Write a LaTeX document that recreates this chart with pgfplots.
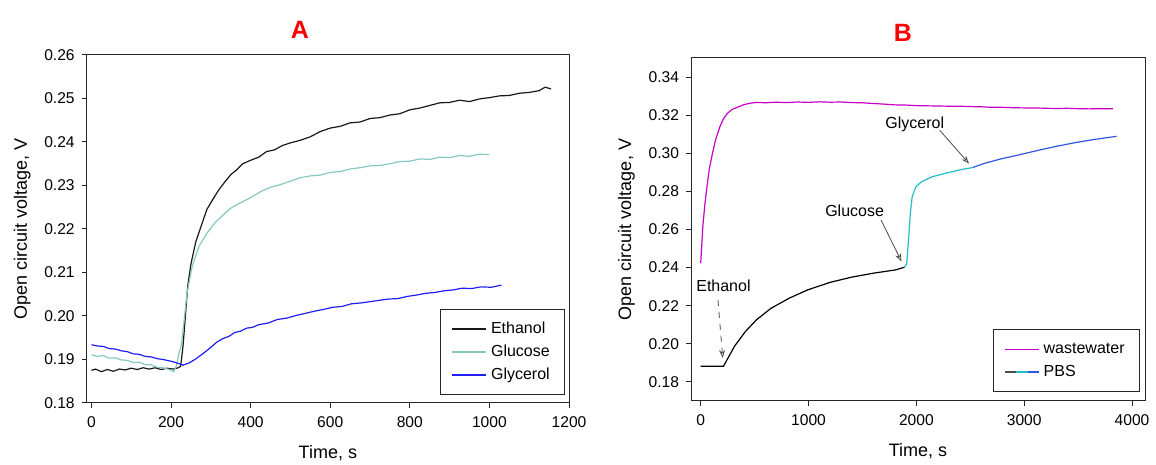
\documentclass[border=0pt]{standalone}
\usepackage{pgfplots}
\pgfplotsset{compat=1.18}
\usepackage{fontspec}
\setmainfont{Liberation Sans}
\usetikzlibrary{arrows.meta}
\definecolor{glucA}{RGB}{135,200,192}
\definecolor{glyblue}{RGB}{30,30,245}
\definecolor{ww}{RGB}{200,0,200}
\definecolor{pbsteal}{RGB}{32,190,200}
\definecolor{pbsblue}{RGB}{50,85,225}
\newcommand{\ls}{\rule[-2pt]{0pt}{8pt}}
\pgfplotsset{myax/.style={
  scale only axis, anchor=south west,
  tick align=outside, tick pos=left, major tick length=2.5pt,
  axis line style={black!85, line width=0.5pt},
  tick style={black!85, line width=0.5pt},
  ticklabel style={font=\fontsize{7.8}{9}\selectfont},
  x tick label style={yshift=-1pt},
  label style={font=\fontsize{9}{11}\selectfont},
  xlabel style={yshift=-2pt},
  /pgf/number format/assume math mode=true,
  y tick label style={/pgf/number format/.cd, fixed, fixed zerofill, precision=2},
  x tick label style={/pgf/number format/.cd, fixed, 1000 sep={}},
  legend cell align=left,
  legend style={font=\fontsize{8}{10}\selectfont, draw=black!85, inner xsep=5.5pt, inner ysep=4pt},
  every axis plot/.append style={line width=0.6pt},
}}
\begin{document}
\begin{tikzpicture}
\useasboundingbox (0,0) rectangle (578pt,232.5pt);
\node[font=\bfseries\fontsize{12.5}{14}\selectfont, text=red] at (150pt,217.5pt) {A};
\node[font=\bfseries\fontsize{12.5}{14}\selectfont, text=red] at (451.5pt,216pt) {B};
\begin{axis}[myax, at={(43.35pt,31pt)}, width=241.15pt, height=174pt,
  xmin=-12, xmax=1200, ymin=0.18, ymax=0.26,
  xtick={0,200,...,1200}, ytick={0.18,0.19,...,0.2601},
  xlabel={Time, s}, ylabel={Open circuit voltage, V},
  legend style={at={(axis description cs:0.992,0.023)}, anchor=south east}]
\addplot[black!90] coordinates {
(0,.1875)(10,.1878)(25,.1872)(40,.1877)(55,.1873)(70,.1878)(85,.1876)(100,.1880)(115,.1877)(130,.1881)(145,.1878)(160,.1881)(175,.1877)
(190,.1880)(205,.1878)(218,.1881)(224,.1884)(230,.1930)(236,.2000)(242,.2070)(250,.2120)(262,.2170)(275,.2205)(290,.2245)(305,.2268)
(320,.2290)(335,.2308)(350,.2325)(365,.2336)(380,.2350)(400,.2358)(420,.2365)(440,.2378)(460,.2382)(480,.2392)(500,.2398)(525,.2404)
(550,.2412)(575,.2424)(600,.2432)(625,.2436)(650,.2444)(675,.2446)(700,.2454)(725,.2456)(750,.2462)(775,.2465)(800,.2474)(825,.2478)
(850,.2484)(875,.2490)(900,.2491)(925,.2496)(950,.2493)(975,.2499)(1000,.2502)(1025,.2506)(1050,.2507)(1075,.2512)(1100,.2514)
(1125,.2518)(1140,.2526)(1155,.2522)};
\addlegendentry{\ls Ethanol}
\addplot[glucA] coordinates {
(0,.1911)(15,.1907)(30,.1909)(45,.1903)(60,.1904)(75,.1899)(90,.1898)(105,.1893)(120,.1894)(135,.1888)(150,.1888)(165,.1882)(180,.1881)
(195,.1877)(207,.1872)(214,.1887)(220,.1915)(225,.1929)(232,.1983)(240,.2052)(253,.2114)(270,.2160)(290,.2190)(310,.2214)(327,.2229)
(350,.2248)(374,.2260)(400,.2272)(425,.2286)(450,.2296)(475,.2302)(500,.2310)(525,.2318)(550,.2322)(575,.2324)(600,.2330)(625,.2332)
(650,.2338)(675,.2341)(700,.2345)(725,.2346)(750,.2350)(775,.2355)(800,.2356)(825,.2361)(850,.2360)(875,.2365)(900,.2364)(925,.2369)
(950,.2367)(975,.2372)(1000,.2371)};
\addlegendentry{\ls Glucose}
\addplot[glyblue] coordinates {
(0,.1934)(15,.1931)(30,.1930)(45,.1925)(60,.1924)(75,.1920)(90,.1918)(105,.1913)(120,.1912)(135,.1907)(150,.1906)(165,.1902)(180,.1900)
(200,.1896)(215,.1892)(230,.1887)(245,.1892)(260,.1900)(281,.1914)(300,.1928)(315,.1940)(330,.1948)(345,.1953)(360,.1962)(374,.1965)
(390,.1972)(405,.1974)(420,.1980)(445,.1984)(467,.1992)(490,.1995)(513,.2001)(537,.2006)(560,.2011)(583,.2015)(606,.2020)(630,.2022)
(653,.2028)(677,.2030)(700,.2033)(723,.2036)(746,.2039)(770,.2040)(793,.2045)(816,.2048)(839,.2052)(862,.2054)(886,.2058)(909,.2060)
(932,.2064)(955,.2063)(979,.2067)(1005,.2066)(1030,.2071)};
\addlegendentry{\ls Glycerol}
\end{axis}
\begin{axis}[myax, at={(345.5pt,32pt)}, width=227pt, height=171.5pt,
  xmin=-90, xmax=4120, ymin=0.17, ymax=0.35,
  xtick={0,1000,...,4000}, ytick={0.18,0.20,...,0.3401},
  xlabel={Time, s}, ylabel={Open circuit voltage, V},
  legend style={at={(axis description cs:0.989,0.026)}, anchor=south east}]
\addplot[ww] coordinates {
(0,.2423)(20,.2620)(40,.2740)(58,.2824)(80,.2920)(109,.2999)(140,.3075)(177,.3138)(210,.3180)(245,.3208)(290,.3230)(347,.3243)(400,.3255)
(450,.3262)(517,.3267)(600,.3265)(700,.3268)(800,.3266)(900,.3269)(1000,.3267)(1100,.3270)(1200,.3268)(1300,.3269)(1400,.3266)(1500,.3265)
(1600,.3261)(1700,.3258)(1800,.3254)(1900,.3253)(2000,.3250)(2100,.3249)(2200,.3248)(2300,.3247)(2400,.3247)(2500,.3245)(2600,.3244)
(2700,.3241)(2800,.3241)(2900,.3239)(3000,.3238)(3100,.3238)(3200,.3236)(3300,.3235)(3400,.3236)(3500,.3234)(3600,.3233)(3700,.3234)(3823,.3234)};
\addlegendentry{\ls wastewater}
\addplot[black, forget plot] coordinates {
(0,0.1882)(100,0.1882)(211,0.1882)(245,0.1917)(313,0.1987)(415,0.2065)(517,0.2126)(653,0.2187)(822,0.2240)(992,0.2283)(1196,0.2322)
(1400,0.2350)(1604,0.2371)(1808,0.2388)(1890,0.2402)};
\addplot[pbsteal, forget plot] coordinates {
(1890,0.2402)(1910,0.2420)(1927,0.2545)(1944,0.2685)(1961,0.2772)(1995,0.2824)(2046,0.2850)(2148,0.2877)(2284,0.2897)(2420,0.2915)(2522,0.2925)};
\addplot[pbsblue, forget plot] coordinates {
(2522,0.2925)(2624,0.2946)(2794,0.2972)(2963,0.2993)(3133,0.3016)(3303,0.3037)(3473,0.3056)(3643,0.3072)(3857,0.3089)};
\addlegendimage{legend image code/.code={\draw[black!70,line width=0.7pt] (0pt,0pt) -- (5.7pt,0pt); \draw[pbsteal,line width=0.7pt] (5.7pt,0pt) -- (11.4pt,0pt); \draw[pbsblue,line width=0.7pt] (11.4pt,0pt) -- (17pt,0pt);}}
\addlegendentry{\ls PBS}
\node[font=\fontsize{8}{10}\selectfont] at (axis cs:211,0.2305) {Ethanol};
\draw[black!70, dashed, line width=0.4pt, -{Stealth[open,length=4pt,width=3pt]}] (axis cs:160,0.2231) -- (axis cs:204,0.1926);
\node[font=\fontsize{8}{10}\selectfont] at (axis cs:1427,0.2699) {Glucose};
\draw[black!70, line width=0.4pt, -{Stealth[open,length=4pt,width=3pt]}] (axis cs:1672,0.2650) -- (axis cs:1862,0.2432);
\node[font=\fontsize{8}{10}\selectfont] at (axis cs:1985,0.3152) {Glycerol};
\draw[black!70, line width=0.4pt, -{Stealth[open,length=4pt,width=3pt]}] (axis cs:2216,0.3121) -- (axis cs:2488,0.2946);
\end{axis}
\end{tikzpicture}
\end{document}
